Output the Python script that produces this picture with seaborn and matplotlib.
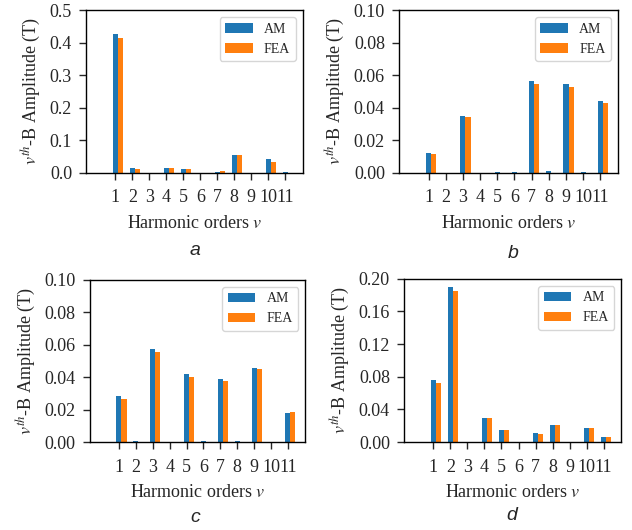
import numpy as np
import pandas as pd
import matplotlib
matplotlib.use("Agg")
import matplotlib.pyplot as plt
import seaborn as sns

orders = [1, 2, 3, 4, 5, 6, 7, 8, 9, 10, 11]

am_a = [0.425, 0.014, 0.0, 0.016, 0.013, 0.0, 0.002, 0.054, 0.0, 0.043, 0.003]
fea_a = [0.414, 0.011, 0.0, 0.015, 0.013, 0.0, 0.006, 0.056, 0.0, 0.034, 0.0]

am_b = [0.0123, 0.0, 0.035, 0.0, 0.0005, 0.0005, 0.0566, 0.0012, 0.0546, 0.0005, 0.0442]
fea_b = [0.0117, 0.0, 0.034, 0.0, 0.0, 0.0, 0.0548, 0.0, 0.0528, 0.0, 0.0431]

am_c = [0.0282, 0.0005, 0.0576, 0.0, 0.0418, 0.0005, 0.0387, 0.0005, 0.0457, 0.0, 0.0181]
fea_c = [0.0265, 0.0, 0.0556, 0.0, 0.0403, 0.0, 0.0377, 0.0, 0.0449, 0.0, 0.0187]

am_d = [0.076, 0.1897, 0.0, 0.0292, 0.0148, 0.0, 0.0111, 0.0209, 0.0, 0.0177, 0.0066]
fea_d = [0.0727, 0.1852, 0.0, 0.0292, 0.0148, 0.0, 0.0099, 0.0209, 0.0, 0.0168, 0.0066]

panel_letters = ["a", "b", "c", "d"]
yticks_list = [
    [0.0, 0.1, 0.2, 0.3, 0.4, 0.5],
    [0.00, 0.02, 0.04, 0.06, 0.08, 0.10],
    [0.00, 0.02, 0.04, 0.06, 0.08, 0.10],
    [0.00, 0.04, 0.08, 0.12, 0.16, 0.20],
]
yfmt = ["{:.1f}", "{:.2f}", "{:.2f}", "{:.2f}"]
series = [(am_a, fea_a), (am_b, fea_b), (am_c, fea_c), (am_d, fea_d)]

sns.set_style("ticks")
plt.rcParams["font.family"] = "serif"
plt.rcParams["font.serif"] = ["Liberation Serif", "DejaVu Serif"]
plt.rcParams["mathtext.fontset"] = "stix"
plt.rcParams["axes.edgecolor"] = "black"
plt.rcParams["axes.linewidth"] = 1.0

fig = plt.figure(figsize=(6.32, 5.30), dpi=100)
rects = [
    [0.136, 0.674, 0.343, 0.307],
    [0.631, 0.674, 0.347, 0.307],
    [0.142, 0.166, 0.341, 0.306],
    [0.639, 0.166, 0.344, 0.308],
]
letter_pos = [(0.309, 0.519), (0.812, 0.513), (0.309, 0.015), (0.810, 0.019)]

blue = "#1f77b4"
orange = "#ff7f0e"
bw = 0.3

for i, (am, fea) in enumerate(series):
    ax = fig.add_axes(rects[i])
    x_am = np.array(orders, dtype=float)
    x_fea = x_am + bw
    sns.barplot(x=x_am, y=am, native_scale=True, width=bw, color=blue,
                saturation=1, label="AM", errorbar=None, linewidth=0, ax=ax)
    sns.barplot(x=x_fea, y=fea, native_scale=True, width=bw, color=orange,
                saturation=1, label="FEA", errorbar=None, linewidth=0, ax=ax)
    for p in ax.patches:
        p.set_edgecolor("none")
    ax.set_xlim(-0.73, 12.03)
    ax.set_xticks(orders)
    ax.set_xticklabels([str(o) for o in orders], fontsize=13)
    yt = yticks_list[i]
    ax.set_ylim(yt[0], yt[-1])
    ax.set_yticks(yt)
    ax.set_yticklabels([yfmt[i].format(v) for v in yt], fontsize=13)
    ax.tick_params(axis="x", length=5, width=1.0, pad=7, direction="out")
    ax.tick_params(axis="y", length=5, width=1.0, pad=5, direction="out")
    for s in ax.spines.values():
        s.set_visible(True)
        s.set_color("black")
    ax.set_xlabel("Harmonic orders $v$", fontsize=13, labelpad=6)
    ax.set_ylabel("$v^{th}$-B Amplitude (T)", fontsize=13, labelpad=5)
    ax.legend(loc="upper right", fontsize=10, frameon=True, fancybox=True,
              edgecolor="#cccccc", framealpha=0.8)
    fig.text(letter_pos[i][0], letter_pos[i][1], panel_letters[i],
             fontsize=14, style="italic", family="Liberation Sans",
             ha="center", va="baseline")

fig.savefig("out.png", dpi=100)
